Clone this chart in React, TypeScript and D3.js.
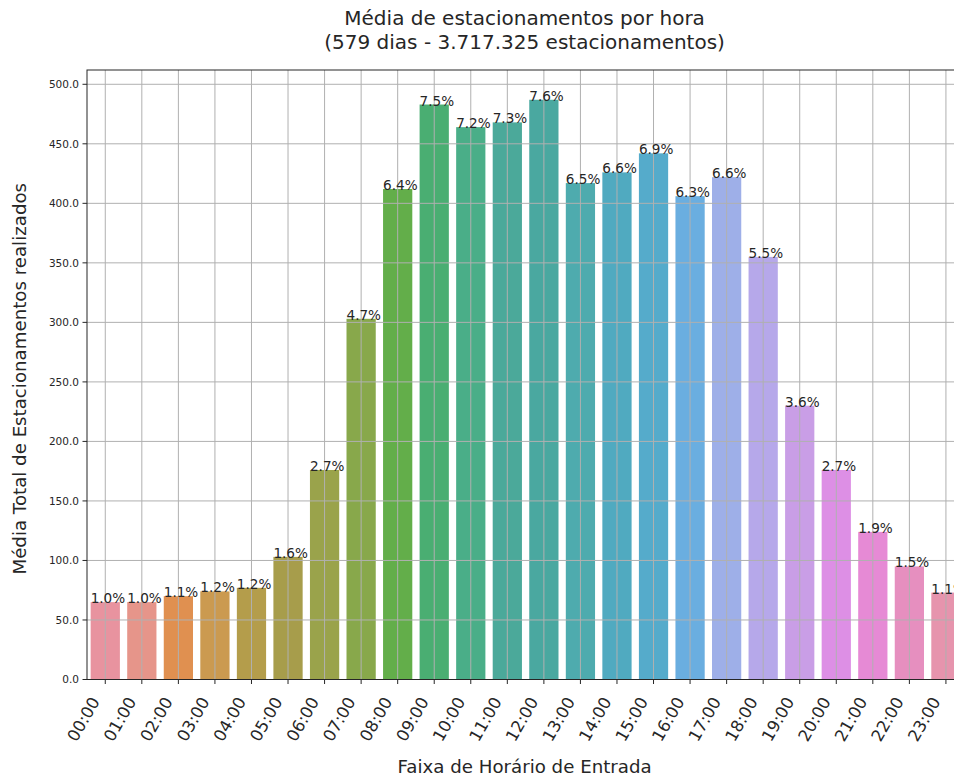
import { useRef, useEffect } from "react";
import * as d3 from "d3";

const horas = [
  "00:00", "01:00", "02:00", "03:00", "04:00", "05:00", "06:00", "07:00",
  "08:00", "09:00", "10:00", "11:00", "12:00", "13:00", "14:00", "15:00",
  "16:00", "17:00", "18:00", "19:00", "20:00", "21:00", "22:00", "23:00",
];
const mediaPorHora = [
  65, 65, 70, 74, 77, 103, 176, 303, 412, 483, 464, 468,
  487, 417, 426, 442, 406, 422, 355, 230, 176, 124, 95, 73,
];
const percentuais = [
  "1.0%", "1.0%", "1.1%", "1.2%", "1.2%", "1.6%", "2.7%", "4.7%",
  "6.4%", "7.5%", "7.2%", "7.3%", "7.6%", "6.5%", "6.6%", "6.9%",
  "6.3%", "6.6%", "5.5%", "3.6%", "2.7%", "1.9%", "1.5%", "1.1%",
];
const yTicks = [0, 50, 100, 150, 200, 250, 300, 350, 400, 450, 500];

// paleta husl dessaturada (seaborn)
const paleta = [
  "#e8939f", "#e6958a", "#e09050", "#cb9a50", "#b49d4b", "#a79d4b",
  "#9aa34b", "#88a84b", "#63ae4a", "#4aae72", "#4aae88", "#4ba99a",
  "#4aa8a0", "#4eabae", "#50aac0", "#55abcb", "#6aaee0", "#9eafe8",
  "#b6a8ea", "#c99ee6", "#dd8fe5", "#e68ad5", "#e68fbf", "#e694ad",
];

const FONT = "'DejaVu Sans', sans-serif";
const TXT = "#262626";

const App = () => {
  const ref = useRef<SVGSVGElement>(null);

  useEffect(() => {
    const width = 954;
    const height = 776;
    const m = { top: 70, left: 87, right: 964.2, bottom: 679.5 };

    const svg = d3.select(ref.current);
    svg.selectAll("*").remove();
    svg.attr("width", width).attr("height", height);

    const x = d3
      .scaleBand()
      .domain(horas)
      .range([m.left, m.right])
      .paddingInner(0.2)
      .paddingOuter(0.1);
    const y = d3.scaleLinear().domain([0, 512]).range([m.bottom, m.top]);

    // barras
    svg
      .append("g")
      .selectAll("rect")
      .data(horas)
      .join("rect")
      .attr("x", (d) => x(d)!)
      .attr("y", (_, i) => y(mediaPorHora[i]))
      .attr("width", x.bandwidth())
      .attr("height", (_, i) => y(0) - y(mediaPorHora[i]))
      .attr("fill", (_, i) => paleta[i]);

    // grade por cima das barras
    const grid = svg.append("g").attr("stroke", "#b0b0b0").attr("stroke-width", 1);
    grid
      .selectAll("line.h")
      .data(yTicks)
      .join("line")
      .attr("x1", m.left)
      .attr("x2", m.right)
      .attr("y1", (d) => y(d))
      .attr("y2", (d) => y(d));
    grid
      .selectAll("line.v")
      .data(horas)
      .join("line")
      .attr("x1", (d) => x(d)! + x.bandwidth() / 2)
      .attr("x2", (d) => x(d)! + x.bandwidth() / 2)
      .attr("y1", m.top)
      .attr("y2", m.bottom);

    // rótulos de porcentagem
    svg
      .append("g")
      .selectAll("text")
      .data(horas)
      .join("text")
      .attr("x", (d) => x(d)!)
      .attr("y", (_, i) => y(mediaPorHora[i]) + 1)
      .attr("font-family", FONT)
      .attr("font-size", 13.6)
      .attr("fill", TXT)
      .text((_, i) => percentuais[i]);

    // eixo y
    const gy = svg.append("g");
    gy.selectAll("line")
      .data(yTicks)
      .join("line")
      .attr("x1", m.left - 4.5)
      .attr("x2", m.left)
      .attr("y1", (d) => y(d))
      .attr("y2", (d) => y(d))
      .attr("stroke", TXT);
    gy.selectAll("text")
      .data(yTicks)
      .join("text")
      .attr("x", m.left - 8)
      .attr("y", (d) => y(d))
      .attr("dy", "0.36em")
      .attr("text-anchor", "end")
      .attr("font-family", FONT)
      .attr("font-size", 10.5)
      .attr("fill", TXT)
      .text((d) => d3.format(".1f")(d));

    // eixo x
    const gx = svg.append("g");
    gx.selectAll("line")
      .data(horas)
      .join("line")
      .attr("x1", (d) => x(d)! + x.bandwidth() / 2)
      .attr("x2", (d) => x(d)! + x.bandwidth() / 2)
      .attr("y1", m.bottom)
      .attr("y2", m.bottom + 4.5)
      .attr("stroke", TXT);
    gx.selectAll("text")
      .data(horas)
      .join("text")
      .attr(
        "transform",
        (d) => `translate(${x(d)! + x.bandwidth() / 2 - 5},${m.bottom + 22}) rotate(-60)`
      )
      .attr("text-anchor", "end")
      .attr("font-family", FONT)
      .attr("font-size", 16.5)
      .attr("fill", TXT)
      .text((d) => d);

    // molduras
    const spines = svg.append("g").attr("stroke", TXT).attr("stroke-width", 1).attr("fill", "none");
    spines.append("rect")
      .attr("x", m.left)
      .attr("y", m.top)
      .attr("width", m.right - m.left)
      .attr("height", m.bottom - m.top);

    // títulos
    const cx = (m.left + m.right) / 2 - 1;
    const titulo = svg
      .append("text")
      .attr("text-anchor", "middle")
      .attr("font-family", FONT)
      .attr("font-size", 20)
      .attr("fill", TXT);
    titulo.append("tspan").attr("x", cx).attr("y", 25).text("Média de estacionamentos por hora");
    titulo.append("tspan").attr("x", cx).attr("y", 48.5).text("(579 dias - 3.717.325 estacionamentos)");

    svg
      .append("text")
      .attr("x", cx)
      .attr("y", 773)
      .attr("text-anchor", "middle")
      .attr("font-family", FONT)
      .attr("font-size", 18.2)
      .attr("fill", TXT)
      .text("Faixa de Horário de Entrada");

    svg
      .append("text")
      .attr("transform", `translate(26,${(m.top + m.bottom) / 2 + 4}) rotate(-90)`)
      .attr("text-anchor", "middle")
      .attr("font-family", FONT)
      .attr("font-size", 18.2)
      .attr("fill", TXT)
      .text("Média Total de Estacionamentos realizados");
  }, []);

  return (
    <svg
      ref={ref}
      style={{ position: "absolute", left: 0, top: 0, background: "#fff" }}
    />
  );
};

export default App;
